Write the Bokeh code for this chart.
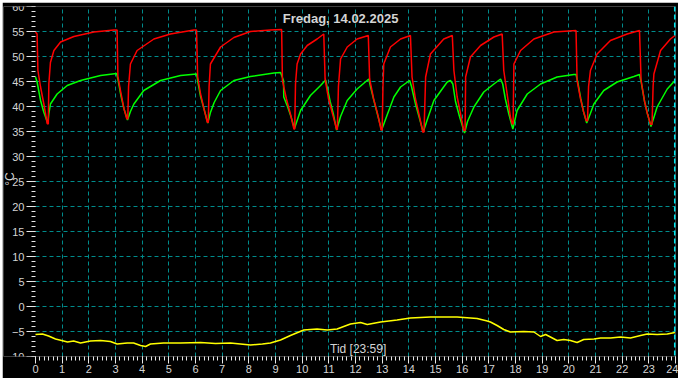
import math
from bokeh.plotting import figure
from bokeh.models import SingleIntervalTicker, FixedTicker, Span, Label, Range1d
from bokeh.embed import file_html
from bokeh.resources import INLINE

# ---- data (hours of day, degrees C) ----
red_hours = [0.00, 0.06, 0.09, 0.19, 0.31, 0.44, 0.48, 0.50, 0.56, 0.69, 0.94, 1.44, 2.19, 2.94, 3.06,
             3.09, 3.21, 3.32, 3.42, 3.46, 3.49, 3.56, 3.81, 4.44, 5.06, 5.94, 6.04,
             6.08, 6.19, 6.32, 6.44, 6.48, 6.51, 6.56, 6.94, 7.44, 8.06, 8.81, 9.23,
             9.26, 9.41, 9.56, 9.69, 9.72, 9.75, 9.81, 9.94, 10.19, 10.56, 10.81,
             10.86, 10.99, 11.14, 11.29, 11.32, 11.36, 11.44, 11.69, 12.06, 12.48,
             12.53, 12.68, 12.83, 12.96, 13.00, 13.03, 13.06, 13.31, 13.69, 14.06,
             14.12, 14.25, 14.40, 14.52, 14.57, 14.63, 14.81, 15.31, 15.63,
             15.69, 15.81, 15.94, 16.06, 16.11, 16.13, 16.31, 16.69, 17.19, 17.50,
             17.56, 17.70, 17.81, 17.88, 17.91, 17.94, 18.19, 18.69, 19.44, 20.27,
             20.31, 20.44, 20.55, 20.65, 20.70, 20.74, 20.81, 21.06, 21.56, 22.19, 22.65,
             22.71, 22.84, 22.95, 23.06, 23.12, 23.16, 23.19, 23.44, 23.81, 23.98]
red_temp = [54.9, 54.5, 47.2, 43.9, 40.6, 36.6, 36.5, 44.5, 48.8, 51.2, 52.9, 54.0, 54.9, 55.3, 55.3,
            46.0, 42.5, 39.5, 37.6, 37.5, 44.0, 48.5, 51.2, 53.5, 54.5, 55.3, 55.3,
            46.0, 42.5, 39.5, 36.9, 36.8, 44.0, 48.5, 51.9, 53.8, 55.0, 55.3, 55.4,
            45.2, 41.5, 38.5, 35.5, 35.5, 44.5, 48.5, 50.5, 52.2, 53.5, 54.5,
            45.5, 41.5, 38.5, 35.5, 35.4, 44.0, 49.5, 51.9, 53.5, 54.2,
            45.5, 41.5, 38.5, 35.3, 35.3, 44.0, 48.5, 51.9, 53.5, 54.2,
            45.9, 41.5, 38.0, 34.9, 34.9, 45.9, 50.5, 53.5, 54.2,
            47.2, 42.0, 38.5, 35.2, 35.2, 45.9, 49.9, 52.2, 53.9, 54.5,
            47.2, 42.0, 37.9, 36.5, 36.5, 48.5, 51.2, 53.5, 54.9, 55.2,
            45.2, 41.5, 39.0, 37.2, 37.1, 44.0, 47.2, 50.5, 53.2, 54.5, 55.2,
            45.2, 41.0, 38.5, 36.5, 36.4, 44.0, 46.5, 51.2, 53.5, 54.2]

green_hours = [0.00, 0.06, 0.19, 0.31, 0.46, 0.50, 0.56, 0.81, 1.19, 1.69, 2.44, 3.04,
               3.09, 3.21, 3.32, 3.45, 3.56, 3.69, 4.06, 4.69, 5.44, 6.04,
               6.08, 6.19, 6.32, 6.46, 6.56, 6.70, 6.94, 7.44, 8.06, 8.94, 9.19,
               9.30, 9.31, 9.45, 9.58, 9.71, 9.94, 10.31, 10.69, 10.88,
               10.93, 11.05, 11.17, 11.29, 11.44, 11.69, 12.06, 12.50,
               12.56, 12.70, 12.83, 12.98, 13.20, 13.44, 13.69, 14.03,
               14.10, 14.25, 14.38, 14.54, 14.70, 14.94, 15.44, 15.56,
               15.65, 15.75, 15.90, 16.09, 16.20, 16.44, 16.81, 17.19, 17.44,
               17.52, 17.62, 17.75, 17.90, 18.06, 18.44, 18.94, 19.56, 20.19, 20.27,
               20.33, 20.45, 20.55, 20.67, 20.80, 20.94, 21.31, 21.81, 22.44, 22.65,
               22.71, 22.84, 22.95, 23.08, 23.20, 23.31, 23.69, 23.98]
green_temp = [45.9, 44.9, 41.2, 38.9, 36.6, 38.5, 40.5, 42.5, 44.2, 45.2, 46.2, 46.6,
              45.5, 42.0, 39.5, 37.3, 39.0, 40.5, 43.2, 45.2, 46.2, 46.5,
              45.2, 42.0, 39.5, 36.7, 38.8, 40.8, 43.2, 45.2, 46.0, 46.7, 46.8,
              45.2, 41.9, 40.0, 38.0, 35.6, 39.2, 42.2, 44.2, 45.3,
              44.0, 41.0, 38.5, 35.3, 38.0, 41.2, 43.5, 45.5,
              44.0, 41.0, 38.3, 35.3, 38.5, 41.9, 43.9, 45.2,
              44.0, 40.5, 38.0, 34.9, 37.5, 41.2, 44.9, 45.2,
              44.5, 41.0, 38.0, 34.7, 37.0, 39.9, 42.9, 44.5, 45.5,
              44.5, 41.5, 38.5, 35.5, 39.2, 42.5, 44.5, 45.9, 46.4, 46.4,
              45.0, 41.5, 39.0, 36.7, 38.5, 40.5, 43.2, 44.9, 46.0, 46.4,
              45.0, 41.0, 38.5, 36.0, 38.0, 39.9, 43.5, 45.2]

outdoor_hours = [0.00, 0.26, 0.49, 0.75, 0.98, 1.20, 1.43, 1.69, 2.06, 2.44, 2.81, 3.06, 3.44,
                 3.68, 3.94, 4.13, 4.31, 4.80, 5.44, 6.19, 6.75, 7.31, 8.06, 8.51, 8.81,
                 9.19, 9.56, 10.06, 10.56, 10.94, 11.31, 11.81, 12.19, 12.44, 12.94, 13.56,
                 14.06, 14.81, 15.81, 16.56, 16.94, 17.06, 17.31, 17.56, 17.81, 18.31, 18.69,
                 18.94, 19.13, 19.31, 19.56, 19.81, 20.06, 20.31, 20.56, 20.94, 21.19, 21.56,
                 21.94, 22.31, 22.69, 22.94, 23.31, 23.69, 23.98]
outdoor_temp = [-5.6, -5.5, -5.9, -6.5, -6.8, -7.1, -6.9, -7.3, -6.9, -6.8, -7.0, -7.5, -7.3,
                -7.3, -7.8, -8.0, -7.5, -7.3, -7.3, -7.2, -7.4, -7.3, -7.7, -7.5, -7.3,
                -6.7, -5.8, -4.7, -4.5, -4.7, -4.5, -3.5, -3.2, -3.6, -3.1, -2.7,
                -2.3, -2.1, -2.1, -2.4, -2.9, -3.1, -3.8, -4.6, -5.1, -5.0, -5.1,
                -6.0, -5.6, -6.1, -6.8, -6.6, -6.8, -7.2, -6.6, -6.5, -6.3, -6.3,
                -6.1, -6.3, -5.8, -5.5, -5.6, -5.5, -5.2]

title_text = "Fredag, 14.02.2025"
x_label_text = "Tid [23:59]"
y_label_text = "°C"
day_start, day_end = 0, 24
grid_hours = list(range(1, 24))
grid_temps = list(range(-5, 60, 5))
now_hour = 23.98

FONT = "Liberation Sans"
TXT = "#d4d4d4"
GRID = "#008b8b"

# frame extends a little left of 0 h so the y axis (fixed at 0 h) and its labels sit inside it
p = figure(width=676, height=376, output_backend="svg", toolbar_location=None,
           x_range=Range1d(-1.2, 24), y_range=Range1d(-10, 60),
           background_fill_color="black", border_fill_color="black",
           min_border_left=1, min_border_right=3, min_border_top=4, min_border_bottom=22,
           margin=(2, 2, 2, 2))
p.outline_line_color = None

p.xaxis.ticker = SingleIntervalTicker(interval=1, num_minor_ticks=6)
p.xaxis.bounds = (day_start, day_end)
p.yaxis.ticker = SingleIntervalTicker(interval=5, num_minor_ticks=5)
p.yaxis.fixed_location = day_start
for ax in (p.xaxis, p.yaxis):
    ax.axis_line_color = None
    ax.major_tick_line_color = "#e8e8e8"
    ax.minor_tick_line_color = "#e8e8e8"
    ax.major_tick_in = 0
    ax.minor_tick_in = 0
    ax.minor_tick_out = 4
    ax.major_label_text_color = TXT
    ax.major_label_text_font = FONT
    ax.major_label_text_font_size = "11px"
p.xaxis.major_tick_out = 7
p.xaxis.major_label_standoff = 1
p.yaxis.major_tick_out = 9
p.yaxis.major_label_standoff = 2

p.xgrid.ticker = FixedTicker(ticks=grid_hours)
p.xgrid.grid_line_color = GRID
p.xgrid.grid_line_dash = "4 3"
p.ygrid.grid_line_color = None
p.segment(x0=[day_start] * len(grid_temps), y0=grid_temps,
          x1=[day_end] * len(grid_temps), y1=grid_temps,
          line_color=GRID, line_dash="4 3", line_width=1)

p.line(outdoor_hours, outdoor_temp, line_color="#ffff00", line_width=1.5)
p.line(green_hours, green_temp, line_color="#00ff00", line_width=1.5)
p.line(red_hours, red_temp, line_color="#ff0000", line_width=1.5)

p.add_layout(Span(location=now_hour, dimension="height", line_color="#00e5ee",
                  line_width=2, line_dash="5 3"))

p.add_layout(Label(x=11.44, y=57.6, text=title_text, text_align="center", text_baseline="middle",
                   text_font=FONT, text_font_style="bold", text_font_size="13px", text_color=TXT))
p.add_layout(Label(x=12.1, y=-8.5, text=x_label_text, text_align="center", text_baseline="middle",
                   text_font=FONT, text_font_size="12px", text_color=TXT))
p.add_layout(Label(x=-0.95, y=25.5, text=y_label_text, angle=math.pi / 2, text_align="center",
                   text_baseline="middle", text_font=FONT, text_font_size="12px", text_color=TXT))

open("out.html", "w").write(file_html(p, INLINE))
